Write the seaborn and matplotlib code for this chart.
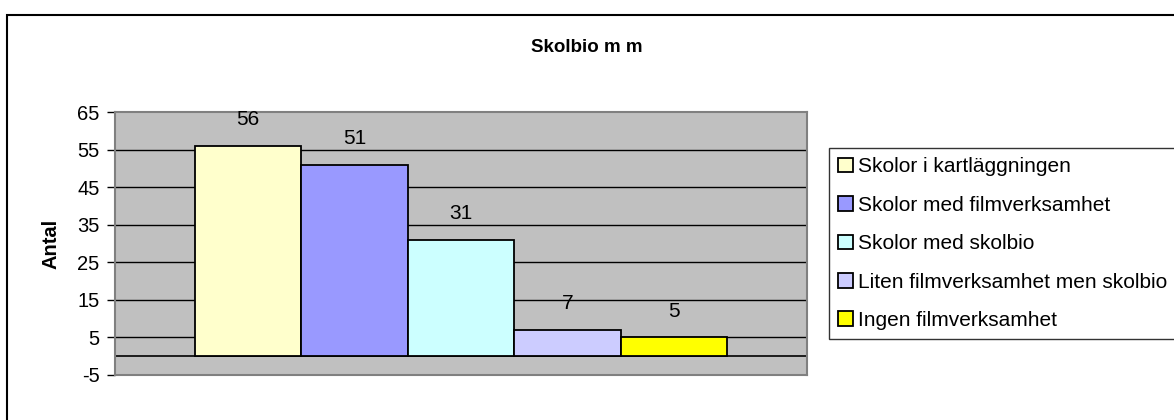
import matplotlib
matplotlib.use("Agg")
import matplotlib.pyplot as plt
import seaborn as sns
import pandas as pd
from matplotlib.patches import Rectangle

series = ["Skolor i kartläggningen", "Skolor med filmverksamhet", "Skolor med skolbio",
          "Liten filmverksamhet men skolbio", "Ingen filmverksamhet"]
values = [56, 51, 31, 7, 5]
colors = ["#FFFFCC", "#9999FF", "#CCFFFF", "#CCCCFF", "#FFFF00"]
yticks = [-5, 5, 15, 25, 35, 45, 55, 65]
title = "Skolbio m m"
ylabel = "Antal"

sns.set_theme(style="white")
plt.rcParams['font.family'] = ['Liberation Sans', 'DejaVu Sans']
plt.rcParams['text.color'] = 'black'
plt.rcParams['axes.labelcolor'] = 'black'
plt.rcParams['ytick.color'] = 'black'

df = pd.DataFrame({"cat": [""] * len(series), "serie": series, "val": values})

W, H = 1174, 420
fig = plt.figure(figsize=(W / 100, H / 100), dpi=100)
ax = fig.add_axes([115 / W, 1 - 375 / H, (807 - 115) / W, (375 - 112) / H])
ax.set_facecolor("#C0C0C0")

for v in yticks[1:-1]:
    ax.axhline(v, color="black", lw=1.0, zorder=1)
ax.axhline(0, color="black", lw=1.2, zorder=1)

sns.barplot(data=df, x="cat", y="val", hue="serie", hue_order=series,
            palette=colors, width=0.77, edgecolor="black", linewidth=1.3,
            saturation=1, ax=ax, zorder=3)

ax.set_xlim(-0.5, 0.5)
ax.set_ylim(-5, 65)
ax.set_yticks(yticks)
ax.set_yticklabels([str(t) for t in yticks], fontsize=14.5)
ax.tick_params(axis="y", direction="out", length=6, width=1, color="black", pad=5, left=True)
ax.tick_params(axis="x", bottom=False, labelbottom=False)
ax.set_xlabel("")
ax.set_ylabel(ylabel, fontsize=14.5, fontweight="bold", labelpad=12)
for s in ax.spines.values():
    s.set_color("#808080")
    s.set_linewidth(1.5)

for c in ax.containers:
    ax.bar_label(c, fontsize=15, padding=12, color="black")

handles, labels = ax.get_legend_handles_labels()
ax.get_legend().remove()
leg = fig.legend(handles, labels, loc="upper left", bbox_to_anchor=(829 / W, 1 - 148 / H),
                 fontsize=15, frameon=True, fancybox=False, edgecolor="black",
                 handlelength=0.7, handleheight=0.7, handletextpad=0.25,
                 labelspacing=0.93, borderpad=0.45, borderaxespad=0)
leg.get_frame().set_linewidth(1.0)
leg.get_frame().set_facecolor("white")

fig.text(587 / W, 1 - 47 / H, title, ha="center", va="center", fontsize=13.5, fontweight="bold")

fig.patches.append(Rectangle((7 / W, -0.05), 1.1, 1 - 15 / H + 0.05, transform=fig.transFigure,
                             fill=False, edgecolor="black", lw=1.5, zorder=0))

fig.savefig("out.png", dpi=100)
